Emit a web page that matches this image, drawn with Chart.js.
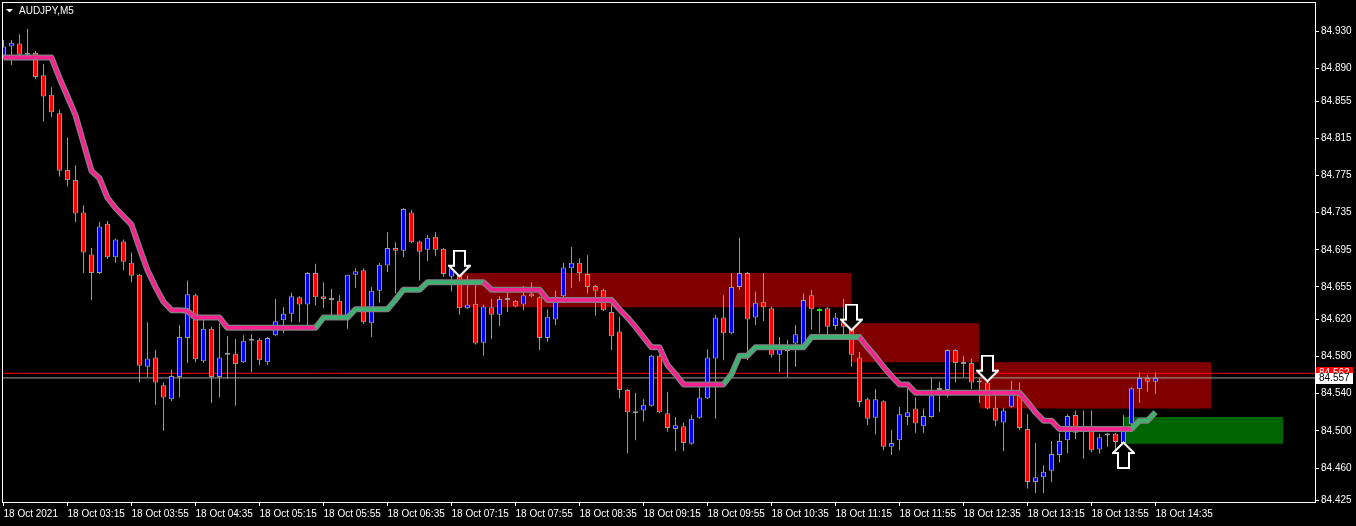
<!DOCTYPE html>
<html>
<head>
<meta charset="utf-8">
<script src="https://cdn.jsdelivr.net/npm/chart.js@4.4.1/dist/chart.umd.min.js"></script>
<style>
html,body{margin:0;padding:0;background:#000;overflow:hidden;}
#wrap{width:1356px;height:526px;position:relative;}
</style>
</head>
<body>
<div id="wrap"><canvas id="c" width="1356" height="526"></canvas></div>
<script>
// ---- data (AUDJPY M5, 18 Oct 2021 02:35 .. 14:35), candle index 0..144 ----
const symbolTitle = 'AUDJPY,M5';
const xTickIdx = [0, 8, 16, 24, 32, 40, 48, 56, 64, 72, 80, 88, 96, 104, 112, 120, 128, 136, 144];
const xTickLabels = ['18 Oct 2021', '18 Oct 03:15', '18 Oct 03:55', '18 Oct 04:35', '18 Oct 05:15', '18 Oct 05:55',
  '18 Oct 06:35', '18 Oct 07:15', '18 Oct 07:55', '18 Oct 08:35', '18 Oct 09:15', '18 Oct 09:55', '18 Oct 10:35',
  '18 Oct 11:15', '18 Oct 11:55', '18 Oct 12:35', '18 Oct 13:15', '18 Oct 13:55', '18 Oct 14:35'];
const yTickValues = [84.930, 84.890, 84.855, 84.815, 84.775, 84.735, 84.695, 84.655, 84.620, 84.580, 84.540, 84.500, 84.460, 84.425];

const opens = [
  84.904, 84.914, 84.917, 84.906, 84.907, 84.883, 84.862, 84.842, 84.781, 84.770,
  84.735, 84.690, 84.670, 84.723, 84.687, 84.704, 84.681, 84.668, 84.569, 84.579,
  84.549, 84.534, 84.558, 84.600, 84.646, 84.575, 84.610, 84.558, 84.583, 84.583,
  84.574, 84.597, 84.598, 84.574, 84.603, 84.619, 84.626, 84.644, 84.636, 84.670,
  84.645, 84.642, 84.640, 84.623, 84.668, 84.673, 84.616, 84.651, 84.678, 84.697,
  84.694, 84.735, 84.704, 84.695, 84.709, 84.696, 84.666, 84.669, 84.632, 84.637,
  84.595, 84.633, 84.625, 84.642, 84.640, 84.636, 84.648, 84.644, 84.600, 84.620,
  84.645, 84.675, 84.681, 84.669, 84.656, 84.652, 84.628, 84.607, 84.544, 84.519,
  84.522, 84.527, 84.581, 84.519, 84.502, 84.505, 84.486, 84.514, 84.535, 84.578,
  84.622, 84.605, 84.655, 84.670, 84.622, 84.639, 84.632, 84.582, 84.587, 84.594,
  84.591, 84.646, 84.629, 84.632, 84.613, 84.617, 84.611, 84.579, 84.534, 84.514,
  84.532, 84.483, 84.490, 84.515, 84.524, 84.505, 84.515, 84.546, 84.544, 84.587,
  84.573, 84.573, 84.552, 84.552, 84.525, 84.509, 84.526, 84.542, 84.502, 84.445,
  84.450, 84.457, 84.474, 84.490, 84.517, 84.503, 84.505, 84.480, 84.496, 84.497,
  84.487, 84.507, 84.545, 84.557, 84.553
];
const highs = [
  84.921, 84.921, 84.927, 84.933, 84.909, 84.895, 84.870, 84.846, 84.816, 84.786,
  84.743, 84.697, 84.725, 84.726, 84.707, 84.706, 84.692, 84.669, 84.617, 84.587,
  84.552, 84.566, 84.614, 84.662, 84.648, 84.624, 84.612, 84.616, 84.602, 84.599,
  84.603, 84.604, 84.600, 84.601, 84.642, 84.633, 84.649, 84.645, 84.671, 84.680,
  84.660, 84.653, 84.646, 84.668, 84.675, 84.675, 84.655, 84.681, 84.714, 84.703,
  84.740, 84.738, 84.705, 84.711, 84.714, 84.697, 84.678, 84.670, 84.667, 84.662,
  84.636, 84.642, 84.645, 84.655, 84.641, 84.656, 84.660, 84.645, 84.631, 84.651,
  84.681, 84.698, 84.686, 84.689, 84.657, 84.653, 84.636, 84.623, 84.545, 84.541,
  84.534, 84.582, 84.582, 84.542, 84.515, 84.509, 84.517, 84.547, 84.588, 84.625,
  84.646, 84.670, 84.708, 84.671, 84.650, 84.670, 84.634, 84.601, 84.598, 84.614,
  84.648, 84.652, 84.632, 84.633, 84.627, 84.642, 84.616, 84.585, 84.536, 84.545,
  84.533, 84.501, 84.526, 84.547, 84.536, 84.524, 84.557, 84.553, 84.588, 84.588,
  84.581, 84.578, 84.557, 84.574, 84.539, 84.525, 84.554, 84.552, 84.518, 84.487,
  84.463, 84.489, 84.498, 84.518, 84.522, 84.522, 84.522, 84.497, 84.498, 84.498,
  84.517, 84.547, 84.563, 84.560, 84.563
];
const lows = [
  84.902, 84.894, 84.904, 84.903, 84.879, 84.833, 84.838, 84.774, 84.763, 84.725,
  84.670, 84.641, 84.669, 84.685, 84.681, 84.673, 84.660, 84.552, 84.558, 84.528,
  84.500, 84.532, 84.536, 84.573, 84.574, 84.573, 84.530, 84.536, 84.556, 84.527,
  84.573, 84.563, 84.571, 84.571, 84.602, 84.605, 84.617, 84.617, 84.614, 84.635,
  84.632, 84.623, 84.623, 84.610, 84.654, 84.615, 84.601, 84.638, 84.671, 84.648,
  84.687, 84.702, 84.662, 84.683, 84.688, 84.666, 84.650, 84.625, 84.631, 84.593,
  84.581, 84.599, 84.613, 84.628, 84.633, 84.630, 84.644, 84.587, 84.596, 84.614,
  84.644, 84.654, 84.661, 84.648, 84.624, 84.629, 84.587, 84.535, 84.476, 84.490,
  84.510, 84.526, 84.519, 84.499, 84.478, 84.478, 84.485, 84.513, 84.534, 84.513,
  84.576, 84.604, 84.652, 84.576, 84.614, 84.618, 84.579, 84.563, 84.558, 84.569,
  84.590, 84.609, 84.605, 84.603, 84.609, 84.603, 84.569, 84.526, 84.506, 84.496,
  84.479, 84.474, 84.479, 84.506, 84.498, 84.498, 84.514, 84.520, 84.536, 84.552,
  84.558, 84.545, 84.530, 84.523, 84.505, 84.478, 84.525, 84.501, 84.438, 84.433,
  84.433, 84.445, 84.466, 84.476, 84.491, 84.470, 84.477, 84.476, 84.483, 84.476,
  84.485, 84.506, 84.530, 84.542, 84.540
];
const closes = [
  84.914, 84.918, 84.905, 84.905, 84.881, 84.860, 84.843, 84.780, 84.770, 84.734,
  84.692, 84.670, 84.720, 84.687, 84.706, 84.682, 84.667, 84.570, 84.578, 84.552,
  84.536, 84.559, 84.601, 84.647, 84.577, 84.610, 84.558, 84.579, 84.582, 84.572,
  84.597, 84.599, 84.576, 84.600, 84.618, 84.626, 84.645, 84.636, 84.670, 84.644,
  84.642, 84.641, 84.623, 84.668, 84.672, 84.617, 84.651, 84.679, 84.697, 84.694,
  84.739, 84.703, 84.693, 84.708, 84.695, 84.669, 84.675, 84.632, 84.636, 84.594,
  84.634, 84.625, 84.642, 84.641, 84.634, 84.646, 84.645, 84.600, 84.623, 84.639,
  84.676, 84.681, 84.670, 84.655, 84.651, 84.630, 84.602, 84.544, 84.520, 84.521,
  84.528, 84.581, 84.520, 84.503, 84.506, 84.487, 84.513, 84.536, 84.579, 84.622,
  84.605, 84.655, 84.670, 84.620, 84.638, 84.633, 84.582, 84.588, 84.586, 84.604,
  84.641, 84.631, 84.629, 84.612, 84.622, 84.612, 84.582, 84.531, 84.513, 84.534,
  84.483, 84.487, 84.518, 84.520, 84.508, 84.516, 84.538, 84.544, 84.587, 84.573,
  84.572, 84.552, 84.554, 84.524, 84.511, 84.522, 84.542, 84.503, 84.445, 84.450,
  84.456, 84.475, 84.489, 84.516, 84.498, 84.502, 84.479, 84.493, 84.495, 84.488,
  84.505, 84.546, 84.557, 84.553, 84.557
];
// stepped trend indicator, one value per candle
const trendLine = [
  84.902, 84.902, 84.902, 84.902, 84.902, 84.902, 84.902, 84.880, 84.860, 84.840,
  84.810, 84.780, 84.772, 84.751, 84.740, 84.731, 84.722, 84.697, 84.673, 84.655,
  84.639, 84.630, 84.630, 84.629, 84.622, 84.622, 84.622, 84.622, 84.611, 84.611,
  84.611, 84.611, 84.611, 84.611, 84.611, 84.611, 84.611, 84.611, 84.611, 84.611,
  84.622, 84.622, 84.622, 84.622, 84.631, 84.631, 84.631, 84.631, 84.631, 84.641,
  84.652, 84.652, 84.652, 84.660, 84.660, 84.660, 84.660, 84.660, 84.660, 84.660,
  84.660, 84.652, 84.652, 84.652, 84.652, 84.652, 84.652, 84.652, 84.641, 84.641,
  84.641, 84.641, 84.641, 84.641, 84.641, 84.641, 84.641, 84.631, 84.622, 84.612,
  84.601, 84.590, 84.590, 84.571, 84.561, 84.550, 84.550, 84.550, 84.550, 84.550,
  84.550, 84.561, 84.581, 84.581, 84.590, 84.590, 84.590, 84.590, 84.590, 84.590,
  84.590, 84.601, 84.601, 84.601, 84.601, 84.601, 84.601, 84.601, 84.590, 84.580,
  84.569, 84.559, 84.550, 84.550, 84.541, 84.541, 84.541, 84.541, 84.541, 84.541,
  84.541, 84.541, 84.541, 84.541, 84.541, 84.541, 84.541, 84.541, 84.531, 84.520,
  84.511, 84.511, 84.502, 84.502, 84.502, 84.502, 84.502, 84.502, 84.502, 84.502,
  84.502, 84.502, 84.511, 84.511, 84.520
];
const upRunStart = [39, 90, 141];
const upRunEnd = [60, 107, 144];

// supply (sell) / demand (buy) zones, in candle index and price
const zoneStart = [57, 106, 122, 140];
const zoneEnd = [106, 122, 151, 160];
const zoneTop = [84.670, 84.616, 84.574, 84.515];
const zoneBottom = [84.633, 84.574, 84.524, 84.486];
const zoneKind = ['sell', 'sell', 'sell', 'buy'];

// signal arrows
const arrowDownIdx = [57, 106, 123];
const arrowDownPrice = [84.680, 84.622, 84.567];
const arrowUpIdx = [140];
const arrowUpPrice = [84.474];

const bidPrice = 84.557;
const askPrice = 84.562;

// ---- view range ----
const xMin = -0.1875, xMax = 163.9375;
const yMin = 84.4234, yMax = 84.9618;

// ---- styles ----
const C_UP = '#0000ff', C_DN = '#ff0000', C_DOJI = '#00ff00', C_WICK = '#9a9a9a';
const FONT = {family: 'Liberation Sans', size: 10};

const idx = opens.map((_, i) => i);
const isUp = i => upRunStart.some((s, k) => i >= s && i < upRunEnd[k]);

function makeArrow(up) {
  const c = document.createElement('canvas');
  c.width = 23; c.height = 28;
  const g = c.getContext('2d');
  if (up) { g.translate(0, 28); g.scale(1, -1); }
  g.beginPath();
  g.moveTo(6, 1); g.lineTo(17, 1); g.lineTo(17, 16); g.lineTo(22, 16);
  g.lineTo(11.5, 26.5); g.lineTo(1, 16); g.lineTo(6, 16); g.closePath();
  g.fillStyle = '#000'; g.fill();
  g.strokeStyle = '#fff'; g.lineWidth = 2; g.lineJoin = 'miter'; g.stroke();
  return c;
}

const zoneSets = zoneStart.map((s, k) => ({
  type: 'line',
  data: [{x: s, y: zoneTop[k]}, {x: zoneEnd[k], y: zoneTop[k]}],
  fill: {value: zoneBottom[k]},
  backgroundColor: zoneKind[k] === 'sell' ? '#800000' : '#006400',
  borderWidth: 0, pointRadius: 0, order: 30
}));

const decor = {
  id: 'decor',
  beforeDraw(chart) {
    const {ctx, width, height} = chart;
    ctx.save(); ctx.fillStyle = '#000'; ctx.fillRect(0, 0, width, height); ctx.restore();
  },
  afterDraw(chart) {
    const {ctx, chartArea: a} = chart;
    const ys = chart.scales.y;
    ctx.save();
    ctx.strokeStyle = '#fff'; ctx.lineWidth = 1;
    ctx.strokeRect(a.left + 0.5, a.top + 0.5, a.right - a.left, a.bottom - a.top);
    // title
    ctx.fillStyle = '#fff';
    ctx.beginPath(); ctx.moveTo(a.left + 4, a.top + 7); ctx.lineTo(a.left + 11, a.top + 7); ctx.lineTo(a.left + 7.5, a.top + 10.5); ctx.closePath(); ctx.fill();
    ctx.font = '10px "Liberation Sans"'; ctx.textBaseline = 'middle'; ctx.textAlign = 'left';
    ctx.fillText(symbolTitle, a.left + 17, a.top + 9);
    // price boxes
    const yA = ys.getPixelForValue(askPrice), yB = ys.getPixelForValue(bidPrice);
    const bx = ys.left + 1;
    ctx.fillStyle = '#ff0000'; ctx.fillRect(bx, Math.round(yA) - 6, 37, 11);
    ctx.fillStyle = '#fff'; ctx.fillText(askPrice.toFixed(3), bx + 3, Math.round(yA));
    ctx.fillStyle = '#fff'; ctx.fillRect(bx, Math.round(yB) - 5, 37, 11);
    ctx.fillStyle = '#000'; ctx.fillText(bidPrice.toFixed(3), bx + 3, Math.round(yB) + 0.5);
    ctx.restore();
  }
};

new Chart(document.getElementById('c'), {
  type: 'bar',
  data: {
    datasets: [
      ...zoneSets,
      {type: 'line', data: [{x: xMin, y: askPrice}, {x: xMax, y: askPrice}], borderColor: '#ff0000', borderWidth: 1, pointRadius: 0, order: 20},
      {type: 'line', data: [{x: xMin, y: bidPrice}, {x: xMax, y: bidPrice}], borderColor: '#a0a0a0', borderWidth: 1, pointRadius: 0, order: 20},
      {type: 'bar', data: idx.map(i => ({x: i, y: [lows[i], highs[i]]})), grouped: false,
       backgroundColor: idx.map(i => opens[i] === closes[i] ? C_DOJI : C_WICK),
       barPercentage: 1, maxBarThickness: 1, borderWidth: 0, inflateAmount: 0, order: 12},
      {type: 'bar', data: idx.map(i => ({x: i, y: [opens[i], closes[i]]})), grouped: false,
       backgroundColor: idx.map(i => closes[i] > opens[i] ? C_UP : (closes[i] < opens[i] ? C_DN : C_DOJI)),
       borderColor: idx.map(i => opens[i] === closes[i] ? C_DOJI : C_WICK),
       borderWidth: 1, borderSkipped: false, minBarLength: 2,
       barPercentage: 1, maxBarThickness: 5, inflateAmount: 0, order: 11},
      {type: 'line', data: idx.map(i => ({x: i, y: trendLine[i]})), borderColor: '#808080', borderWidth: 6,
       pointRadius: 0, tension: 0, borderJoinStyle: 'round', order: 5},
      {type: 'line', data: idx.map(i => ({x: i, y: trendLine[i]})), borderWidth: 3.5,
       borderColor: '#ff2090', segment: {borderColor: ctx => isUp(ctx.p0DataIndex) ? '#3cb371' : '#ff2090'},
       pointRadius: 0, tension: 0, borderJoinStyle: 'round', order: 4},
      {type: 'line', showLine: false, data: arrowDownIdx.map((v, k) => ({x: v, y: arrowDownPrice[k]})),
       pointStyle: makeArrow(false), pointRadius: 12, order: 0},
      {type: 'line', showLine: false, data: arrowUpIdx.map((v, k) => ({x: v, y: arrowUpPrice[k]})),
       pointStyle: makeArrow(true), pointRadius: 12, order: 0}
    ]
  },
  options: {
    responsive: false, animation: false, devicePixelRatio: 1, events: [],
    layout: {autoPadding: false, padding: {left: 2, top: 2, right: 0, bottom: 0}},
    plugins: {legend: {display: false}, tooltip: {enabled: false}, title: {display: false}},
    scales: {
      x: {
        type: 'linear', min: xMin, max: xMax, offset: false, bounds: 'data',
        afterBuildTicks: s => { s.ticks = xTickIdx.map(v => ({value: v})); },
        afterFit: s => { s.height = 24; s.paddingLeft = 0; s.paddingRight = 0; s.paddingTop = 0; s.paddingBottom = 0; },
        grid: {display: true, drawOnChartArea: false, drawTicks: true, tickLength: 4, color: '#fff', offset: false},
        border: {display: false},
        ticks: {autoSkip: false, maxRotation: 0, minRotation: 0, align: 'start', padding: 2,
                color: '#fff', font: FONT, callback: (v, i) => xTickLabels[i]}
      },
      y: {
        type: 'linear', position: 'right', min: yMin, max: yMax, bounds: 'data',
        afterBuildTicks: s => { s.ticks = yTickValues.map(v => ({value: v})); },
        afterFit: s => { s.width = 41; s.paddingLeft = 0; s.paddingRight = 0; s.paddingTop = 0; s.paddingBottom = 0; },
        grid: {display: true, drawOnChartArea: false, drawTicks: true, tickLength: 4, color: '#fff'},
        border: {display: false},
        ticks: {autoSkip: false, padding: 2, color: '#fff', font: FONT, callback: v => Number(v).toFixed(3)}
      }
    }
  },
  plugins: [decor]
});
</script>
</body>
</html>
